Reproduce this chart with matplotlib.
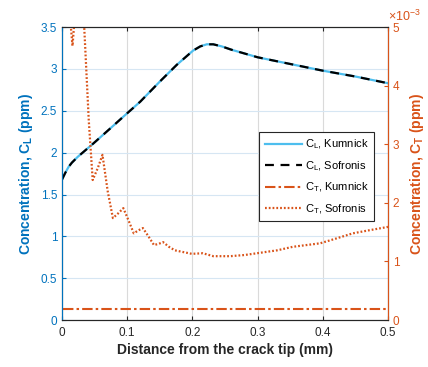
"""
Concentration profiles ahead of the crack tip (C_L and C_T, Kumnick vs Sofronis)
"""

import matplotlib
matplotlib.use('Agg')
import matplotlib.pyplot as plt

plt.rcParams['font.family'] = ['Liberation Sans', 'DejaVu Sans']
plt.rcParams['mathtext.fontset'] = 'custom'
plt.rcParams['mathtext.rm'] = 'Liberation Sans'
plt.rcParams['mathtext.bf'] = 'Liberation Sans:bold'

# lattice concentration C_L (ppm) - both models practically identical
x_cl = [0.0, 0.005, 0.01, 0.015, 0.024, 0.033, 0.048, 0.074, 0.094, 0.12, 0.15,
        0.176, 0.201, 0.212, 0.222, 0.232, 0.245, 0.26, 0.3, 0.35, 0.4, 0.45, 0.5]
cl_kumnick = [1.68, 1.76, 1.83, 1.88, 1.95, 2.01, 2.11, 2.29, 2.43, 2.61, 2.85,
              3.05, 3.22, 3.27, 3.295, 3.295, 3.27, 3.23, 3.14, 3.06, 2.98, 2.91, 2.83]
cl_sofronis = [1.68, 1.76, 1.83, 1.88, 1.95, 2.01, 2.11, 2.29, 2.43, 2.61, 2.85,
               3.05, 3.22, 3.27, 3.295, 3.295, 3.27, 3.23, 3.14, 3.06, 2.98, 2.91, 2.83]

# trapped concentration C_T (x 1e-3 ppm)
x_ct_k = [0.002, 0.5]
ct_kumnick = [0.185, 0.185]

x_ct_s = [0.005, 0.012, 0.016, 0.019, 0.024, 0.030, 0.034, 0.041, 0.047, 0.055,
          0.062, 0.070, 0.078, 0.086, 0.094, 0.102, 0.110, 0.117, 0.124, 0.133,
          0.141, 0.148, 0.155, 0.164, 0.173, 0.186, 0.199, 0.216, 0.232, 0.258,
          0.280, 0.299, 0.330, 0.354, 0.396, 0.420, 0.446, 0.470, 0.500]
ct_sofronis = [5.6, 5.2, 4.68, 5.1, 5.5, 5.4, 5.0, 3.4, 2.39, 2.6,
               2.82, 2.2, 1.74, 1.82, 1.91, 1.7, 1.48, 1.53, 1.57, 1.42,
               1.28, 1.30, 1.33, 1.25, 1.19, 1.16, 1.13, 1.14, 1.09, 1.09,
               1.11, 1.14, 1.19, 1.25, 1.31, 1.39, 1.48, 1.53, 1.59]

x_ticks = [0, 0.1, 0.2, 0.3, 0.4, 0.5]
x_ticklabels = ['0', '0.1', '0.2', '0.3', '0.4', '0.5']
left_ticks = [0, 0.5, 1, 1.5, 2, 2.5, 3, 3.5]
left_ticklabels = ['0', '0.5', '1', '1.5', '2', '2.5', '3', '3.5']
right_ticks = [0, 1, 2, 3, 4, 5]
right_ticklabels = ['0', '1', '2', '3', '4', '5']

blue = '#0072BD'
light_blue = '#4DBEEE'
orange = '#D95319'

fig = plt.figure(figsize=(4.28, 3.67), dpi=100)
ax = fig.add_axes([0.145, 0.128, 0.7615, 0.798])
ax2 = ax.twinx()

l1, = ax.plot(x_cl, cl_kumnick, color=light_blue, lw=1.6, label='C$_\\mathrm{L}$, Kumnick')
l2, = ax.plot(x_cl, cl_sofronis, color='black', lw=1.6, ls=(0, (4, 3)),
              label='C$_\\mathrm{L}$, Sofronis')
l3, = ax2.plot(x_ct_k, ct_kumnick, color=orange, lw=1.5, ls=(0, (5, 1.5, 1.2, 1.5)),
               label='C$_\\mathrm{T}$, Kumnick')
l4, = ax2.plot(x_ct_s, ct_sofronis, color=orange, lw=1.6, ls=(0, (0.8, 0.9)),
               label='C$_\\mathrm{T}$, Sofronis')

ax.set_xlim(0, 0.5)
ax.set_ylim(0, 3.5)
ax2.set_ylim(0, 5)

ax.set_xticks(x_ticks)
ax.set_xticklabels(x_ticklabels)
ax.set_yticks(left_ticks)
ax.set_yticklabels(left_ticklabels)
ax2.set_yticks(right_ticks)
ax2.set_yticklabels(right_ticklabels)

# grid: vertical grey, horizontal tinted with the left axis color
ax.xaxis.grid(True, color='#DADADA', lw=0.8)
ax.yaxis.grid(True, color='#D6E6F3', lw=0.8)
ax.set_axisbelow(True)

ax.tick_params(axis='x', direction='in', length=3, labelsize=8.5, colors='#262626',
               top=True, pad=5)
ax.tick_params(axis='y', direction='in', length=3, labelsize=8.5, colors=blue)
ax2.tick_params(axis='y', direction='in', length=3, labelsize=8.5, colors=orange)

for s in ['top', 'bottom']:
    ax.spines[s].set_color('#262626')
ax2.spines['left'].set_color(blue)
ax2.spines['right'].set_color(orange)
ax2.spines['top'].set_color('#262626')
ax2.spines['bottom'].set_color('#262626')

ax.set_xlabel('Distance from the crack tip (mm)', fontsize=10, fontweight='bold',
              color='#262626', labelpad=3)
ax.set_ylabel('Concentration, C$_\\mathbf{L}$ (ppm)', fontsize=10, fontweight='bold',
              color=blue, labelpad=4)
ax2.set_ylabel('Concentration, C$_\\mathbf{T}$ (ppm)', fontsize=10, fontweight='bold',
               color=orange, labelpad=6)

ax2.text(1.0, 1.01, '$\\times$10$^{-3}$', transform=ax2.transAxes, color=orange,
         fontsize=9, ha='left', va='bottom')

leg = ax2.legend(handles=[l1, l2, l3, l4], loc='upper right', bbox_to_anchor=(0.975, 0.66),
                 fontsize=8, handlelength=3.4, frameon=True, fancybox=False,
                 framealpha=1, edgecolor='#262626', borderpad=0.5, labelspacing=0.7,
                 handletextpad=0.2)
leg.get_frame().set_linewidth(0.8)

plt.savefig('out.png', dpi=100, facecolor='white')
